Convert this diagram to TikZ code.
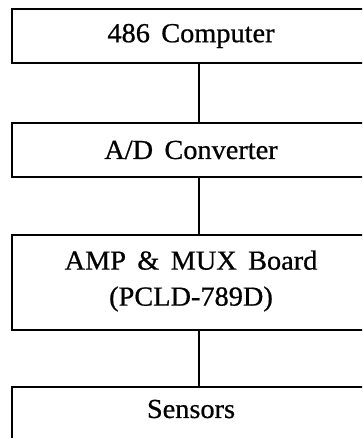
\documentclass[tikz,border=0pt]{standalone}
\usepackage{fontspec}
\setmainfont[FakeStretch=1.03,FakeBold=0.7,WordSpace=1.6]{Liberation Serif}
\begin{document}
\begin{tikzpicture}[x=1pt,y=-1pt,
  box/.style={draw,line width=1.4pt,rectangle,minimum width=358pt,inner sep=0pt},
  lbl/.style={font=\fontsize{27.5}{36}\selectfont,align=center,inner sep=0pt},
  conn/.style={line width=1.3pt}]
\useasboundingbox (0,0) rectangle (362,438);
\clip (0,0) rectangle (362,438);
\node[box,minimum height=54pt] (b1) at (191,36) {};
\node[lbl] (t1) at (191,36) {486 Computer};
\node[box,minimum height=54pt] (b2) at (191,150) {};
\node[lbl] (t2) at (191,150) {A/D Converter};
\node[box,minimum height=95pt] (b3) at (191,282.5) {};
\node[lbl] (t3) at (191,281) {AMP \& MUX Board\\(PCLD-789D)};
\node[box,minimum height=70pt] (b4) at (191,422) {};
\node[lbl] (t4) at (191,409) {Sensors};
\draw[conn] ([xshift=8pt]b1.south) -- ([xshift=8pt]b2.north);
\draw[conn] ([xshift=8pt]b2.south) -- ([xshift=8pt]b3.north);
\draw[conn] ([xshift=8pt]b3.south) -- ([xshift=8pt]b4.north);
\end{tikzpicture}
\end{document}
